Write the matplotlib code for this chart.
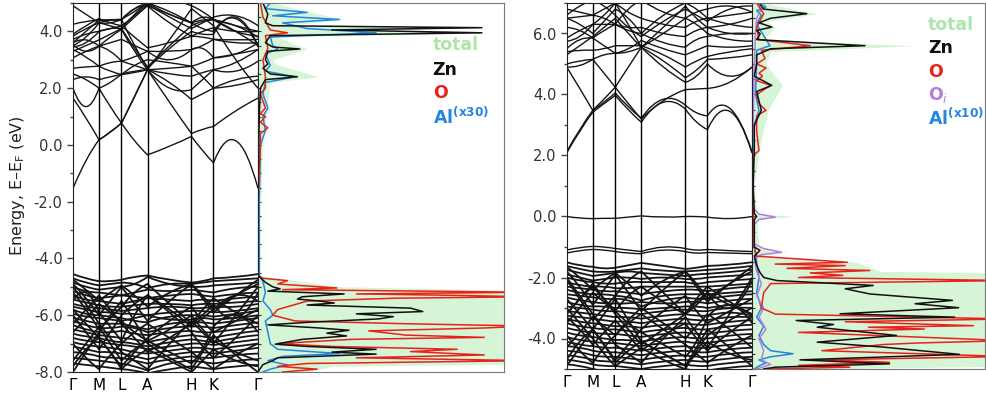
import numpy as np
import matplotlib
matplotlib.use("Agg")
import matplotlib.pyplot as plt
from matplotlib.path import Path
from matplotlib.patches import PathPatch

# ---- k-path (same path for both band panels) ----
kpath_labels = ["Γ", "M", "L", "A", "H", "K", "Γ"]
kpath_dist = [0, 26, 48.5, 74.5, 118.5, 140.5, 185]

# ---- left panel bands: energies at Γ,mid,M,mid,L,mid,A,mid,H,mid,K,mid,Γ ----
left_cond = [
    [-1.53, -0.55, 0.18, 0.45, 0.77, 0.15, -0.35, -0.05, 0.3, -0.2, -0.63, 0.15, -1.53],
    [1.65, 0.95, 0.18, 0.45, 0.77, 1.7, 2.65, 1.5, 0.4, 0.55, 0.65, 1.2, 1.65],
    [2.0, 1.35, 2.0, 1.35, 0.77, 1.7, 2.65, 3.7, 4.8, 4.5, 4.2, 3.0, 2.0],
    [2.3, 2.4, 2.3, 2.4, 2.48, 2.55, 2.65, 2.2, 1.6, 1.8, 2.0, 2.3, 2.42],
    [2.7, 2.75, 2.77, 2.9, 2.95, 2.8, 2.65, 2.0, 1.95, 2.3, 2.65, 2.6, 2.95],
    [3.07, 3.3, 3.48, 3.8, 4.07, 3.3, 2.65, 2.5, 2.42, 2.55, 2.65, 2.9, 3.36],
    [3.36, 3.1, 2.77, 2.6, 2.48, 2.8, 3.0, 2.9, 2.77, 2.9, 3.07, 3.2, 3.36],
    [3.54, 3.3, 3.48, 3.6, 3.72, 3.5, 3.3, 3.3, 3.36, 3.5, 3.72, 3.6, 3.6],
    [3.72, 3.9, 4.0, 4.1, 4.19, 3.8, 3.42, 3.6, 3.83, 3.8, 3.72, 3.7, 3.72],
    [3.83, 4.1, 4.3, 4.2, 4.07, 4.5, 4.9, 4.3, 3.83, 4.0, 4.13, 4.0, 4.0],
    [4.25, 4.35, 4.4, 4.4, 4.42, 4.7, 5.0, 4.6, 4.3, 4.5, 4.42, 4.2, 4.0],
    [4.9, 4.6, 4.3, 4.3, 4.42, 4.8, 4.9, 4.6, 4.3, 4.4, 4.42, 4.0, 3.83],
    [3.6, 3.7, 3.48, 3.3, 2.95, 3.1, 3.3, 3.0, 3.36, 3.4, 3.07, 3.2, 3.6],
    [3.45, 3.6, 4.0, 4.1, 4.1, 4.6, 5.0, 5.1, 4.9, 4.7, 4.42, 4.0, 3.5],
    [3.5, 3.8, 4.3, 4.4, 4.42, 3.5, 2.7, 3.4, 4.0, 3.9, 3.9, 4.5, 3.5],
    [3.6, 4.0, 4.4, 4.4, 4.4, 4.8, 5.0, 4.7, 4.3, 4.1, 4.0, 4.45, 3.45],
    [3.3, 3.5, 3.7, 3.9, 4.1, 3.4, 2.75, 3.5, 4.2, 4.35, 4.4, 4.2, 3.8],
    [3.9, 4.2, 4.45, 4.3, 4.2, 4.55, 4.95, 4.5, 4.1, 4.3, 4.5, 4.55, 4.2],
    [2.5, 2.3, 2.0, 2.2, 2.5, 2.6, 2.65, 2.7, 2.77, 2.4, 2.0, 2.1, 2.3],
]
left_val = [
    [-4.55, -4.7, -4.8, -4.8, -4.75, -4.65, -4.6, -4.75, -4.85, -4.8, -4.7, -4.65, -4.55],
    [-4.7, -4.85, -4.95, -4.9, -4.85, -4.9, -5.05, -4.9, -4.9, -4.85, -4.8, -4.75, -4.7],
    [-4.85, -5.0, -5.1, -5.05, -5.0, -4.9, -4.65, -4.9, -5.0, -5.0, -4.95, -4.9, -4.85],
    [-5.0, -5.15, -5.2, -5.25, -5.3, -5.2, -5.1, -5.15, -5.1, -5.15, -5.2, -5.05, -5.0],
    [-5.15, -5.3, -5.4, -5.35, -5.3, -5.35, -5.4, -5.3, -5.25, -5.3, -5.35, -5.25, -5.2],
    [-5.3, -5.45, -5.5, -5.55, -5.6, -5.5, -5.4, -5.45, -5.5, -5.45, -5.5, -5.4, -5.35],
    [-5.45, -5.55, -5.65, -5.7, -5.7, -5.65, -5.6, -5.6, -5.65, -5.6, -5.6, -5.55, -5.5],
    [-5.6, -5.7, -5.75, -5.8, -5.85, -5.8, -5.75, -5.7, -5.75, -5.75, -5.7, -5.7, -5.6],
    [-5.7, -5.8, -5.9, -5.9, -5.95, -5.95, -6.0, -5.9, -5.85, -5.85, -5.9, -5.85, -5.75],
    [-5.8, -5.95, -6.0, -6.05, -6.1, -6.2, -6.25, -6.05, -6.0, -6.0, -6.05, -5.95, -5.85],
    [-5.95, -6.05, -6.1, -6.15, -6.2, -6.1, -6.0, -6.15, -6.15, -6.1, -6.15, -6.1, -6.0],
    [-6.1, -6.2, -6.3, -6.3, -6.3, -6.4, -6.5, -6.3, -6.25, -6.25, -6.3, -6.2, -6.1],
    [-6.2, -6.35, -6.45, -6.45, -6.4, -6.45, -6.6, -6.45, -6.4, -6.4, -6.45, -6.35, -6.25],
    [-6.35, -6.5, -6.6, -6.6, -6.55, -6.65, -6.7, -6.6, -6.55, -6.6, -6.6, -6.5, -6.4],
    [-6.5, -6.6, -6.7, -6.75, -6.8, -6.85, -6.95, -6.8, -6.7, -6.75, -6.8, -6.65, -6.55],
    [-6.65, -6.75, -6.8, -6.9, -6.95, -7.0, -7.1, -6.95, -6.85, -6.9, -6.95, -6.8, -6.7],
    [-6.8, -6.9, -6.95, -7.0, -7.05, -7.1, -7.2, -7.1, -7.0, -7.0, -7.05, -6.95, -6.85],
    [-6.95, -7.05, -7.1, -7.15, -7.2, -7.3, -7.35, -7.25, -7.15, -7.15, -7.2, -7.1, -7.0],
    [-7.1, -7.2, -7.3, -7.3, -7.35, -7.45, -7.55, -7.4, -7.3, -7.3, -7.35, -7.25, -7.15],
    [-7.3, -7.35, -7.45, -7.5, -7.5, -7.6, -7.7, -7.55, -7.45, -7.5, -7.5, -7.4, -7.35],
    [-7.5, -7.55, -7.6, -7.65, -7.7, -7.8, -7.95, -7.7, -7.6, -7.65, -7.7, -7.6, -7.55],
    [-7.7, -7.75, -7.8, -7.85, -7.9, -7.95, -8.05, -7.9, -7.8, -7.85, -7.9, -7.8, -7.75],
    [-5.0, -5.6, -6.3, -6.8, -7.3, -7.6, -7.9, -7.0, -6.2, -6.6, -7.0, -6.0, -5.0],
    [-8.0, -7.3, -6.6, -6.0, -5.5, -6.2, -7.0, -7.5, -7.9, -7.3, -6.7, -7.4, -8.0],
    [-5.5, -5.2, -5.9, -6.4, -6.9, -6.0, -5.3, -5.8, -6.4, -6.1, -5.8, -5.3, -5.5],
    [-6.0, -6.6, -7.2, -6.6, -6.0, -5.6, -5.3, -5.9, -6.6, -7.1, -7.5, -6.8, -6.0],
    [-7.6, -7.0, -6.4, -7.0, -7.6, -7.2, -6.9, -6.5, -6.0, -6.5, -6.9, -7.3, -7.6],
    [-4.9, -5.4, -6.0, -5.5, -5.0, -5.6, -6.2, -5.5, -4.9, -5.3, -5.8, -5.3, -4.9],
    [-5.2, -5.8, -6.5, -6.1, -5.7, -5.2, -4.9, -5.6, -6.3, -6.0, -5.6, -6.1, -5.2],
    [-6.3, -5.8, -5.3, -5.8, -6.3, -6.8, -7.3, -6.8, -6.3, -5.8, -5.4, -5.9, -6.3],
    [-7.0, -7.5, -7.9, -7.4, -7.0, -6.6, -6.3, -6.8, -7.3, -7.6, -7.9, -7.4, -7.0],
    [-5.8, -6.3, -6.8, -7.3, -7.8, -7.3, -6.8, -6.2, -5.7, -6.2, -6.6, -6.2, -5.8],
    [-6.6, -6.1, -5.6, -5.9, -6.2, -6.6, -6.9, -7.3, -7.7, -7.2, -6.4, -6.0, -6.6],
    [-7.8, -7.2, -6.8, -7.3, -7.9, -7.5, -7.2, -7.6, -8.0, -7.6, -7.2, -7.6, -7.8],
    [-4.75, -5.1, -5.5, -5.2, -4.95, -5.3, -5.7, -5.2, -4.9, -5.4, -5.9, -5.3, -4.75],
]

# ---- right panel bands ----
right_cond = [
    [2.08, 2.8, 3.42, 3.7, 3.97, 3.5, 3.09, 3.75, 3.52, 3.1, 2.85, 3.45, 2.08],
    [2.12, 2.85, 3.48, 3.75, 4.05, 3.6, 3.22, 3.85, 3.65, 3.4, 3.3, 3.55, 2.12],
    [4.9, 4.2, 3.48, 3.85, 4.24, 3.7, 3.2, 3.8, 4.16, 4.18, 4.2, 4.4, 4.9],
    [4.9, 4.95, 5.15, 4.7, 4.24, 4.9, 5.55, 4.9, 4.4, 4.6, 5.0, 4.6, 4.9],
    [5.0, 5.1, 5.15, 5.3, 5.35, 5.4, 5.55, 5.1, 4.55, 4.8, 5.15, 5.2, 5.3],
    [5.4, 5.45, 5.45, 5.5, 5.6, 5.6, 5.6, 5.3, 4.9, 5.1, 5.25, 5.4, 5.5],
    [5.5, 5.8, 5.85, 5.6, 5.35, 5.5, 5.77, 5.5, 5.3, 5.45, 5.6, 5.55, 5.6],
    [5.75, 5.9, 6.3, 6.6, 7.0, 6.3, 5.55, 6.2, 6.9, 6.5, 6.2, 6.0, 6.0],
    [5.85, 6.1, 6.3, 6.3, 6.3, 6.1, 6.0, 5.7, 5.55, 5.8, 5.9, 6.0, 6.0],
    [6.2, 6.1, 5.85, 6.1, 6.3, 6.2, 6.2, 6.0, 5.9, 6.1, 6.2, 6.3, 6.5],
    [6.5, 6.55, 6.6, 6.8, 7.0, 6.7, 6.5, 6.3, 6.2, 6.4, 6.5, 6.6, 6.7],
    [6.8, 6.7, 6.6, 6.5, 6.3, 6.8, 7.1, 6.7, 6.5, 6.7, 6.8, 6.9, 6.7],
    [6.6, 6.9, 7.1, 6.9, 6.6, 6.2, 5.9, 6.4, 6.8, 6.6, 6.4, 6.8, 6.9],
    [5.3, 5.6, 5.9, 6.2, 6.5, 6.0, 5.55, 6.0, 6.5, 6.3, 6.0, 5.8, 5.75],
    [6.5, 6.3, 6.0, 6.4, 6.8, 6.5, 6.0, 6.6, 7.0, 6.8, 6.5, 6.3, 6.2],
]
right_gap = [
    [0.0, -0.05, -0.07, -0.06, -0.06, -0.02, 0.02, -0.02, 0.0, 0.0, -0.02, -0.07, 0.0],
    [-1.1, -1.02, -0.98, -1.0, -1.05, -1.1, -1.15, -1.0, -1.05, -1.1, -1.08, -1.12, -1.15],
    [-1.2, -1.12, -1.08, -1.1, -1.15, -1.2, -1.22, -1.1, -1.15, -1.2, -1.18, -1.2, -1.22],
]
right_val = [
    [-1.5, -1.6, -1.65, -1.7, -1.68, -1.6, -1.52, -1.62, -1.72, -1.68, -1.62, -1.58, -1.5],
    [-1.62, -1.72, -1.8, -1.82, -1.8, -1.75, -1.7, -1.78, -1.8, -1.78, -1.75, -1.7, -1.62],
    [-1.75, -1.85, -1.95, -1.9, -1.85, -1.8, -1.85, -1.9, -1.95, -1.9, -1.88, -1.82, -1.75],
    [-1.9, -2.0, -2.1, -2.05, -2.0, -2.0, -2.05, -2.0, -2.05, -2.05, -2.0, -1.95, -1.9],
    [-2.0, -2.1, -2.15, -2.2, -2.2, -2.15, -2.15, -2.15, -2.15, -2.2, -2.15, -2.1, -2.05],
    [-2.15, -2.25, -2.3, -2.3, -2.35, -2.35, -2.3, -2.3, -2.3, -2.3, -2.3, -2.25, -2.2],
    [-2.3, -2.35, -2.4, -2.45, -2.45, -2.5, -2.55, -2.45, -2.4, -2.4, -2.45, -2.35, -2.3],
    [-2.4, -2.5, -2.55, -2.55, -2.6, -2.65, -2.75, -2.6, -2.55, -2.55, -2.55, -2.5, -2.45],
    [-2.55, -2.6, -2.65, -2.7, -2.7, -2.75, -2.95, -2.75, -2.65, -2.7, -2.7, -2.6, -2.55],
    [-2.65, -2.75, -2.8, -2.85, -2.85, -2.85, -2.8, -2.85, -2.8, -2.8, -2.85, -2.75, -2.7],
    [-2.8, -2.9, -2.95, -2.95, -3.0, -3.0, -3.05, -3.0, -2.95, -2.95, -3.0, -2.9, -2.85],
    [-2.95, -3.0, -3.05, -3.1, -3.1, -3.15, -3.2, -3.1, -3.05, -3.1, -3.1, -3.0, -3.0],
    [-3.1, -3.15, -3.2, -3.25, -3.3, -3.3, -3.35, -3.25, -3.2, -3.25, -3.25, -3.15, -3.25],
    [-3.25, -3.3, -3.35, -3.4, -3.45, -3.45, -3.5, -3.4, -3.35, -3.4, -3.4, -3.3, -3.3],
    [-3.35, -3.45, -3.5, -3.55, -3.6, -3.6, -3.65, -3.55, -3.5, -3.55, -3.55, -3.45, -3.4],
    [-3.5, -3.6, -3.65, -3.7, -3.7, -3.75, -3.8, -3.7, -3.65, -3.7, -3.7, -3.6, -3.55],
    [-3.65, -3.75, -3.8, -3.85, -3.85, -3.9, -3.95, -3.85, -3.8, -3.85, -3.85, -3.75, -3.7],
    [-3.8, -3.9, -3.95, -4.0, -4.05, -4.05, -4.1, -4.0, -3.95, -4.0, -4.0, -3.9, -3.85],
    [-3.95, -4.05, -4.1, -4.15, -4.15, -4.2, -4.25, -4.15, -4.1, -4.15, -4.15, -4.05, -4.0],
    [-4.1, -4.2, -4.25, -4.3, -4.3, -4.35, -4.4, -4.3, -4.25, -4.3, -4.3, -4.2, -4.15],
    [-4.25, -4.3, -4.4, -4.45, -4.45, -4.5, -4.55, -4.45, -4.4, -4.45, -4.45, -4.35, -4.3],
    [-4.4, -4.45, -4.55, -4.6, -4.6, -4.65, -4.7, -4.6, -4.55, -4.6, -4.6, -4.5, -4.45],
    [-4.55, -4.6, -4.7, -4.75, -4.75, -4.8, -4.85, -4.75, -4.7, -4.75, -4.75, -4.65, -4.6],
    [-4.7, -4.75, -4.85, -4.9, -4.9, -4.95, -5.0, -4.9, -4.85, -4.9, -4.9, -4.8, -4.75],
    [-4.85, -4.9, -5.0, -5.05, -5.05, -5.1, -5.15, -5.05, -5.0, -5.05, -5.05, -4.95, -4.9],
    [-2.0, -2.6, -3.2, -3.7, -4.2, -4.5, -4.8, -4.0, -3.3, -3.8, -4.3, -3.2, -2.0],
    [-4.9, -4.3, -3.7, -3.2, -2.7, -3.4, -4.1, -4.5, -4.9, -4.3, -3.7, -4.3, -4.9],
    [-3.2, -2.7, -2.3, -2.7, -3.1, -2.6, -2.3, -2.8, -3.2, -2.8, -2.5, -2.9, -3.2],
    [-3.3, -3.7, -4.2, -3.8, -3.4, -3.9, -4.4, -3.9, -3.5, -4.0, -4.4, -3.8, -3.3],
    [-1.8, -2.3, -2.9, -2.4, -1.9, -2.5, -3.1, -2.4, -1.8, -2.2, -2.7, -2.2, -1.8],
    [-2.1, -2.7, -3.4, -3.0, -2.6, -2.1, -1.8, -2.5, -3.2, -2.9, -2.5, -3.0, -2.1],
    [-3.2, -2.7, -2.2, -2.7, -3.2, -3.7, -4.2, -3.7, -3.2, -2.7, -2.3, -2.8, -3.2],
    [-3.9, -4.4, -4.8, -4.3, -3.9, -3.5, -3.2, -3.7, -4.2, -4.5, -4.8, -4.3, -3.9],
    [-2.7, -3.2, -3.7, -4.2, -4.7, -4.2, -3.7, -3.1, -2.6, -3.1, -3.5, -3.1, -2.7],
    [-3.5, -3.0, -2.5, -2.8, -3.1, -3.5, -3.8, -4.2, -4.6, -4.1, -3.3, -2.9, -3.5],
    [-4.7, -4.1, -3.7, -4.2, -4.8, -4.4, -4.1, -4.5, -4.9, -4.5, -4.1, -4.5, -4.7],
    [-1.65, -2.0, -2.4, -2.1, -1.85, -2.2, -2.6, -2.1, -1.8, -2.3, -2.8, -2.2, -1.65],
    [-3.0, -3.5, -4.0, -4.5, -4.9, -4.6, -4.3, -4.7, -5.0, -4.4, -3.9, -3.4, -3.0],
    [-4.3, -3.8, -3.3, -3.6, -3.9, -3.4, -3.0, -3.5, -4.0, -3.6, -3.2, -3.7, -4.3],
]

# ---- DOS, (energy, value) pairs; x range of DOS panels is 0..100 ----
left_total = [(5.0, 6), (4.67, 22), (4.42, 35), (4.2, 10), (4.13, 95), (4.05, 40), (3.95, 95), (3.8, 8),
              (3.38, 20), (3.0, 6), (2.85, 7), (2.4, 25), (2.2, 5), (1.5, 4), (0.0, 2), (-2, 1), (-4.6, 1),
              (-4.78, 15), (-5.0, 35), (-5.15, 120), (-7.7, 120), (-7.8, 30), (-8.0, 20)]
left_zn = [(5.0, 2), (4.6, 4), (4.3, 3), (4.2, 6), (4.13, 91), (4.05, 30), (3.95, 91), (3.85, 5), (3.6, 3),
           (3.45, 6), (3.38, 17), (3.3, 4), (3.0, 3), (2.85, 4), (2.7, 2), (2.5, 5), (2.4, 16), (2.3, 3),
           (2.0, 1), (1.0, 0.5), (0.0, 0.3), (-2.0, 0), (-4.6, 0), (-4.84, 3), (-5.0, 6), (-5.07, 9),
           (-5.15, 4), (-5.25, 35), (-5.35, 18), (-5.43, 16), (-5.5, 25), (-5.57, 31), (-5.64, 20),
           (-5.75, 62), (-5.87, 67), (-5.95, 40), (-6.05, 55), (-6.13, 49), (-6.25, 20), (-6.34, 4),
           (-6.45, 25), (-6.53, 37), (-6.63, 28), (-6.73, 36), (-6.85, 18), (-7.02, 7), (-7.1, 20),
           (-7.2, 48), (-7.3, 30), (-7.37, 48), (-7.5, 8), (-7.6, 6), (-7.74, 2), (-8.0, 0)]
left_o = [(5.0, 1), (4.5, 2), (4.2, 4), (4.05, 5), (3.95, 12), (3.85, 3), (3.4, 4), (3.0, 2), (2.4, 3),
          (2.0, 3), (1.8, 1), (1.3, 3), (1.1, 1), (1.0, 3), (0.8, 1), (0.6, 4), (0.4, 1), (0.0, 1),
          (-2, 0), (-4.6, 0), (-4.7, 2), (-4.78, 12), (-4.9, 8), (-5.04, 32), (-5.1, 10), (-5.19, 110),
          (-5.25, 40), (-5.3, 80), (-5.35, 110), (-5.4, 56), (-5.5, 20), (-5.8, 8), (-6.0, 6),
          (-6.2, 15), (-6.3, 60), (-6.38, 110), (-6.45, 92), (-6.55, 45), (-6.7, 60), (-6.78, 92),
          (-6.85, 38), (-7.0, 8), (-7.1, 30), (-7.2, 81), (-7.28, 62), (-7.4, 92), (-7.5, 40),
          (-7.6, 110), (-7.7, 20), (-7.8, 8), (-7.9, 24), (-8.0, 10)]
left_al = [(5.0, 5), (4.8, 3), (4.67, 20), (4.55, 6), (4.42, 33), (4.3, 10), (4.1, 20), (3.95, 48),
           (3.8, 5), (3.5, 6), (3.38, 8), (3.2, 3), (2.8, 5), (2.6, 3), (2.4, 15), (2.2, 3), (1.8, 2),
           (1.3, 4), (1.0, 2), (0.5, 3), (0.0, 1), (-2, 0.5), (-4.6, 0.5), (-4.8, 2), (-5.2, 3),
           (-5.5, 2), (-5.8, 5), (-6.0, 6), (-6.2, 3), (-6.6, 4), (-7.0, 5), (-7.2, 8), (-7.35, 33),
           (-7.45, 10), (-7.6, 4), (-7.75, 12), (-7.9, 5), (-8.0, 2)]

right_total = [(7.0, 5), (6.65, 28), (6.4, 6), (6.2, 10), (5.8, 5), (5.6, 70), (5.4, 8), (5.0, 6),
               (4.3, 13), (3.5, 7), (2.2, 3), (1.0, 1), (0.1, 2), (0.0, 18), (-0.1, 2), (-1.0, 3),
               (-1.17, 15), (-1.3, 3), (-1.5, 45), (-1.8, 55), (-1.85, 120), (-4.9, 120), (-5.0, 20)]
right_zn = [(7.0, 3), (6.8, 5), (6.65, 23.5), (6.5, 8), (6.35, 3), (6.21, 8.5), (6.1, 2), (5.99, 3.5),
            (5.8, 2), (5.6, 48.5), (5.5, 8), (5.3, 2), (5.0, 2), (4.6, 1), (4.3, 8.5), (4.1, 2),
            (3.48, 4), (3.0, 1), (2.2, 1), (1.0, 0.5), (0.1, 1), (0.0, 2), (-0.1, 1), (-1.0, 1),
            (-1.11, 3.4), (-1.3, 1), (-1.6, 2), (-1.83, 3.4), (-2.0, 5), (-2.10, 10.7), (-2.26, 52),
            (-2.37, 40), (-2.54, 50.6), (-2.75, 86), (-2.86, 70), (-2.99, 88.7), (-3.19, 37.8),
            (-3.30, 87), (-3.41, 19), (-3.54, 35), (-3.63, 28), (-3.90, 62), (-4.12, 28), (-4.28, 56),
            (-4.52, 89), (-4.70, 20.6), (-4.83, 59), (-4.94, 10), (-5.0, 5)]
right_o = [(7.0, 2), (6.65, 5), (6.2, 2), (5.8, 3), (5.6, 25), (5.45, 4), (5.18, 5.6), (5.0, 2),
           (4.87, 6), (4.7, 3), (4.6, 4.5), (4.45, 2), (4.3, 8), (4.15, 5), (4.0, 2), (3.7, 3),
           (3.48, 6), (3.3, 2), (2.8, 2), (2.16, 3), (2.0, 0.5), (0.0, 0.5), (-1.0, 1), (-1.3, 2),
           (-1.5, 41), (-1.56, 10), (-1.61, 40), (-1.7, 15), (-1.77, 50.6), (-1.85, 25), (-1.93, 39),
           (-2.0, 20), (-2.10, 110), (-2.2, 8), (-2.5, 5), (-3.0, 4), (-3.2, 10), (-3.36, 110),
           (-3.45, 40), (-3.58, 95), (-3.63, 50), (-3.69, 74), (-3.8, 20), (-4.07, 110), (-4.15, 70),
           (-4.2, 56), (-4.4, 30), (-4.59, 110), (-4.7, 30), (-4.78, 59), (-4.88, 20), (-4.94, 42),
           (-5.0, 5)]
right_oi = [(7.0, 2), (6.8, 4), (6.5, 2), (6.0, 1.5), (5.0, 1), (3.0, 0.5), (0.3, 0.3), (0.08, 3),
            (-0.02, 10), (-0.1, 3), (-0.3, 0.5), (-0.9, 1), (-1.05, 5), (-1.17, 12.7), (-1.25, 4),
            (-1.4, 1), (-1.8, 2), (-2.2, 4), (-2.6, 2), (-3.0, 5), (-3.3, 3), (-3.7, 6), (-4.0, 3),
            (-4.4, 5), (-4.7, 4), (-4.85, 8), (-5.0, 2)]
right_al = [(7.0, 3), (6.87, 6), (6.75, 2), (6.6, 4), (6.3, 2), (5.6, 7.7), (5.45, 2), (5.0, 2),
            (4.0, 1.5), (3.48, 3), (3.0, 1), (2.0, 0.5), (0.0, 0.5), (-1.0, 1), (-1.5, 2), (-2.0, 3),
            (-2.5, 2), (-3.0, 4), (-3.3, 2), (-3.6, 5), (-3.9, 3), (-4.2, 5), (-4.4, 8), (-4.5, 17.6),
            (-4.6, 8), (-4.7, 3), (-4.8, 6), (-4.9, 3), (-5.0, 1)]

c_total = "#d6f5d6"
c_total_txt = "#ade6ad"
c_zn = "#111111"
c_o = "#e8221a"
c_al = "#2585e0"
c_oi = "#b77be0"

plt.rcParams["font.family"] = "DejaVu Sans"

fig = plt.figure(figsize=(9.87, 3.96), dpi=100)


def band_path(energies):
    # each segment: symmetry point -> midpoint value -> next symmetry point,
    # drawn as a quadratic curve passing through the midpoint value
    verts = [(kpath_dist[0], energies[0])]
    codes = [Path.MOVETO]
    for i in range(len(kpath_dist) - 1):
        x0, x2 = kpath_dist[i], kpath_dist[i + 1]
        e0, em, e2 = energies[2 * i], energies[2 * i + 1], energies[2 * i + 2]
        verts += [((x0 + x2) / 2, 2 * em - (e0 + e2) / 2), (x2, e2)]
        codes += [Path.CURVE3, Path.CURVE3]
    return Path(verts, codes)


def draw_bands(ax, band_sets, ylim, yticks):
    for bands, lw in band_sets:
        for b in bands:
            ax.add_patch(PathPatch(band_path(b), facecolor="none", edgecolor="#151515", lw=lw))
    for x in kpath_dist[1:-1]:
        ax.axvline(x, color="black", lw=1.0)
    ax.set_xlim(kpath_dist[0], kpath_dist[-1])
    ax.set_ylim(*ylim)
    ax.set_xticks(kpath_dist)
    ax.set_xticklabels(kpath_labels, fontsize=11)
    ax.tick_params(axis="x", length=0, pad=4)
    ax.set_yticks(yticks)
    ax.set_yticks(np.arange(ylim[0], ylim[1] + 0.1, 1.0), minor=True)
    ax.set_yticklabels(["%.1f" % t for t in yticks], fontsize=10.5, color="#333333")
    ax.tick_params(axis="y", which="major", length=4, width=1, color="#444444")
    ax.tick_params(axis="y", which="minor", length=2.5, width=1, color="#444444")
    for s in ax.spines.values():
        s.set_color("#222222")


def draw_dos(ax, total, series, ylim):
    e, v = np.array(total).T
    ax.fill_betweenx(e, 0, v, color=c_total, lw=0)
    for data, col in series:
        e, v = np.array(data).T
        ax.plot(v, e, color=col, lw=1.1)
    ax.set_xlim(0, 100)
    ax.set_ylim(*ylim)
    ax.set_xticks([])
    ax.set_yticks(np.arange(ylim[0], ylim[1] + 0.1, 0.5))
    ax.set_yticklabels([])
    ax.tick_params(axis="y", direction="in", length=2, color="#333333")
    for name, s in ax.spines.items():
        s.set_color("#777777" if name in ("top", "right", "bottom") else "#222222")


# ---- left structure ----
axb1 = fig.add_axes([73 / 987, 1 - 372 / 396, 185 / 987, 369 / 396])
draw_bands(axb1, [(left_cond, 1.0), (left_val, 1.3)], (-8, 5), [-8, -6, -4, -2, 0, 2, 4])
axd1 = fig.add_axes([258 / 987, 1 - 372 / 396, 246 / 987, 369 / 396])
draw_dos(axd1, left_total, [(left_al, c_al), (left_o, c_o), (left_zn, c_zn)], (-8, 5))

fs = 12.5
axd1.text(0.71, 0.886, "total", color=c_total_txt, fontsize=fs, fontweight="bold",
          transform=axd1.transAxes, va="center")
axd1.text(0.71, 0.818, "Zn", color=c_zn, fontsize=fs, fontweight="bold",
          transform=axd1.transAxes, va="center")
axd1.text(0.71, 0.756, "O", color=c_o, fontsize=fs, fontweight="bold",
          transform=axd1.transAxes, va="center")
axd1.text(0.71, 0.691, r"Al$^{\mathbf{(x30)}}$", color=c_al, fontsize=fs, fontweight="bold",
          transform=axd1.transAxes, va="center")

# ---- right structure ----
axb2 = fig.add_axes([566.7 / 987, 1 - 369 / 396, 185.3 / 987, 366 / 396])
draw_bands(axb2, [(right_cond, 1.0), (right_gap, 1.0), (right_val, 1.3)], (-5, 7),
           [-4, -2, 0, 2, 4, 6])
axd2 = fig.add_axes([752 / 987, 1 - 369 / 396, 233 / 987, 366 / 396])
draw_dos(axd2, right_total, [(right_al, c_al), (right_oi, c_oi), (right_o, c_o), (right_zn, c_zn)], (-5, 7))

axd2.text(0.755, 0.94, "total", color=c_total_txt, fontsize=fs, fontweight="bold",
          transform=axd2.transAxes, va="center")
axd2.text(0.755, 0.877, "Zn", color=c_zn, fontsize=fs, fontweight="bold",
          transform=axd2.transAxes, va="center")
axd2.text(0.755, 0.811, "O", color=c_o, fontsize=fs, fontweight="bold",
          transform=axd2.transAxes, va="center")
axd2.text(0.755, 0.749, r"O$_{\mathit{i}}$", color=c_oi, fontsize=fs, fontweight="bold",
          transform=axd2.transAxes, va="center")
axd2.text(0.755, 0.686, r"Al$^{\mathbf{(x10)}}$", color=c_al, fontsize=fs, fontweight="bold",
          transform=axd2.transAxes, va="center")

fig.text(0.018, 0.53, r"Energy, E–E$_\mathrm{F}$ (eV)", rotation=90, fontsize=11.5,
         color="#222222", ha="center", va="center")

fig.savefig("out.png", dpi=100)
